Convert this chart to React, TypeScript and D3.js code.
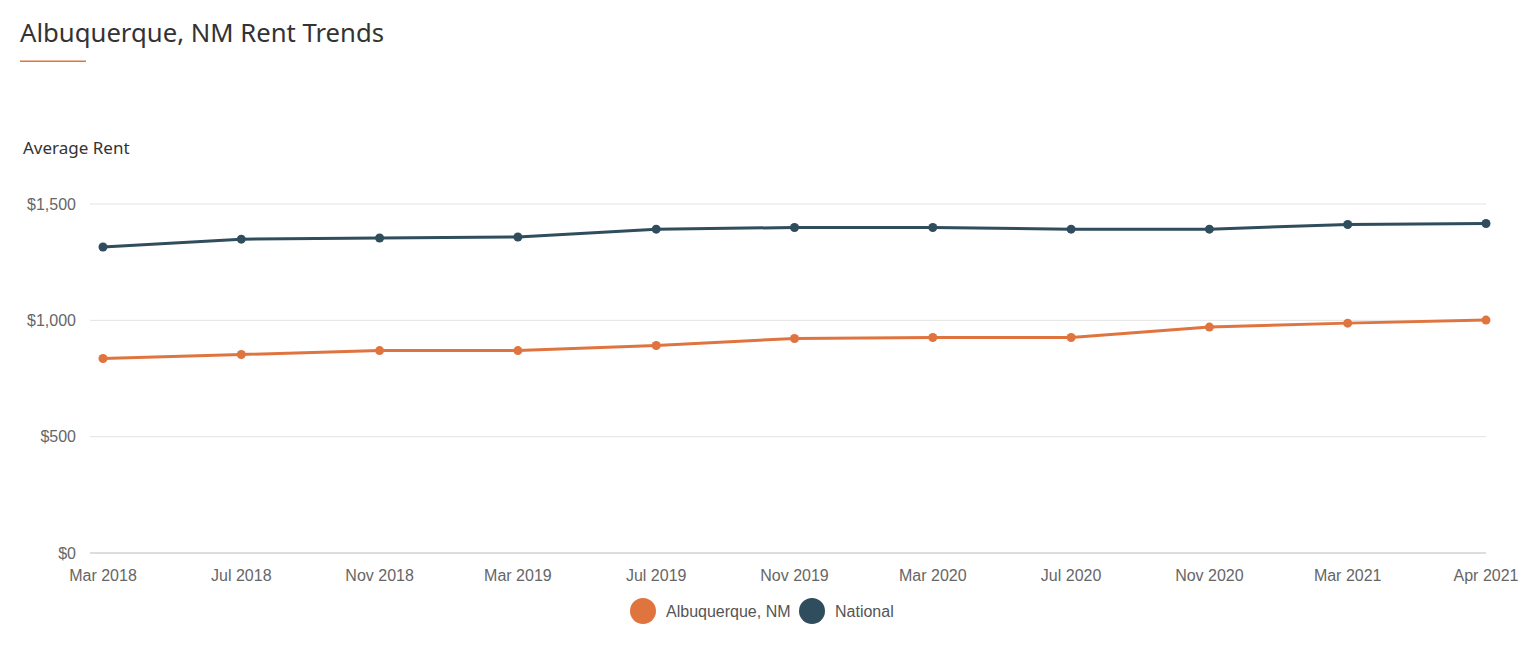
import React, { useEffect, useRef } from "react";
import * as d3 from "d3";

const months = ["Mar 2018", "Jul 2018", "Nov 2018", "Mar 2019", "Jul 2019", "Nov 2019", "Mar 2020", "Jul 2020", "Nov 2020", "Mar 2021", "Apr 2021"];
const albuquerque = [836, 853, 870, 870, 892, 922, 926, 926, 971, 988, 1001];
const national = [1315, 1349, 1354, 1358, 1392, 1399, 1399, 1392, 1392, 1412, 1416];
const yTicks = [0, 500, 1000, 1500];

const ORANGE = "#e0743f";
const NAVY = "#2f4d5c";

export default function App() {
    const ref = useRef(null);

    useEffect(() => {
        const svg = d3.select(ref.current);
        svg.selectAll("*").remove();

        const x = d3.scalePoint().domain(months).range([103, 1486]);
        const y = d3.scaleLinear().domain([0, 1500]).range([553, 204]);

        // title
        svg.append("text")
            .attr("x", 20)
            .attr("y", 42)
            .attr("font-family", "'Noto Sans', sans-serif")
            .attr("font-size", 25.7)
            .attr("fill", "#333")
            .text("Albuquerque, NM Rent Trends");
        svg.append("rect").attr("x", 20).attr("y", 60.5).attr("width", 66).attr("height", 1.5).attr("fill", ORANGE);

        svg.append("text")
            .attr("x", 23)
            .attr("y", 154)
            .attr("font-family", "'Noto Sans', sans-serif")
            .attr("font-size", 17)
            .attr("fill", "#333")
            .text("Average Rent");

        // grid + y labels
        const grid = svg.append("g");
        grid.selectAll("line")
            .data(yTicks)
            .join("line")
            .attr("x1", 90)
            .attr("x2", 1486)
            .attr("y1", (d) => y(d))
            .attr("y2", (d) => y(d))
            .attr("stroke", (d) => (d === 0 ? "#bbb" : "#e3e3e3"))
            .attr("stroke-width", 1);
        grid.selectAll("text")
            .data(yTicks)
            .join("text")
            .attr("x", 76)
            .attr("y", (d) => y(d))
            .attr("dy", "0.35em")
            .attr("text-anchor", "end")
            .attr("font-family", "'Liberation Sans', Arial, sans-serif")
            .attr("font-size", 16)
            .attr("fill", "#666")
            .text((d) => d3.format("$,")(d));

        // x labels
        svg.append("g")
            .selectAll("text")
            .data(months)
            .join("text")
            .attr("x", (d) => x(d))
            .attr("y", 581)
            .attr("text-anchor", "middle")
            .attr("font-family", "'Liberation Sans', Arial, sans-serif")
            .attr("font-size", 16)
            .attr("fill", "#666")
            .text((d) => d);

        const series = [
            { name: "National", values: national, color: NAVY },
            { name: "Albuquerque, NM", values: albuquerque, color: ORANGE },
        ];
        const line = d3.line().x((d, i) => x(months[i])).y((d) => y(d));

        series.forEach((s) => {
            const g = svg.append("g");
            g.append("path")
                .datum(s.values)
                .attr("fill", "none")
                .attr("stroke", s.color)
                .attr("stroke-width", 3)
                .attr("stroke-linejoin", "round")
                .attr("d", line);
            g.selectAll("circle")
                .data(s.values)
                .join("circle")
                .attr("cx", (d, i) => x(months[i]))
                .attr("cy", (d) => y(d))
                .attr("r", 4.5)
                .attr("fill", s.color);
        });

        // legend
        const legend = [
            { name: "Albuquerque, NM", color: ORANGE, cx: 643 },
            { name: "National", color: NAVY, cx: 812 },
        ];
        const lg = svg.append("g").selectAll("g").data(legend).join("g");
        lg.append("circle").attr("cx", (d) => d.cx).attr("cy", 611).attr("r", 13).attr("fill", (d) => d.color);
        lg.append("text")
            .attr("x", (d) => d.cx + 23)
            .attr("y", 611)
            .attr("dy", "0.35em")
            .attr("font-family", "'Liberation Sans', Arial, sans-serif")
            .attr("font-size", 16)
            .attr("fill", "#555")
            .text((d) => d.name);
    }, []);

    return (
        <svg
            ref={ref}
            width={1536}
            height={661}
            style={{ position: "absolute", left: 0, top: 0, background: "#fff" }}
        ></svg>
    );
}
